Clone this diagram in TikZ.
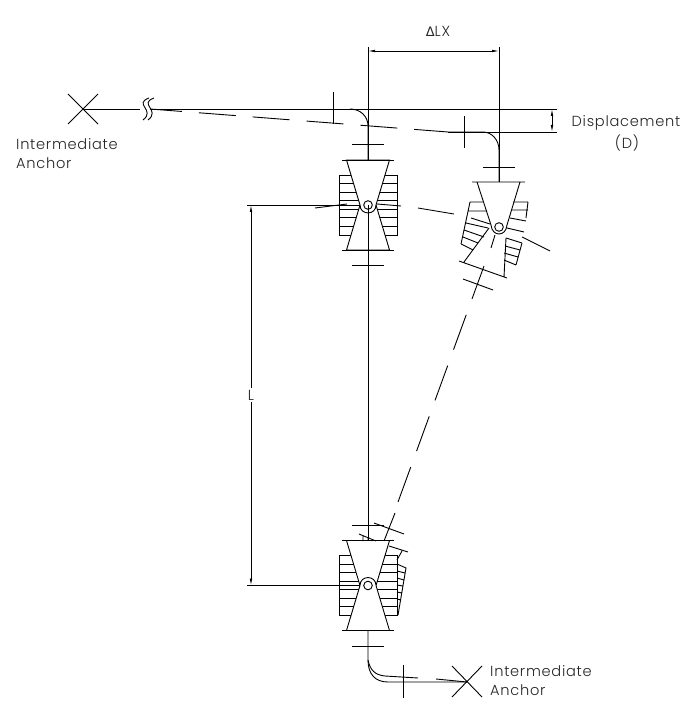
\documentclass[tikz,border=0pt]{standalone}
\usepackage{fontspec}
\setmainfont[LetterSpace=5]{Poppins Light}
\newfontfamily\deltafont{DejaVu Sans}
\usetikzlibrary{arrows.meta,positioning}
\tikzset{
  joint/.style={line width=0.9pt},
  pipedash/.style={joint,dash pattern=on 37pt off 17pt},
  dimline/.style={line width=0.75pt},
  dimarrow/.style={dimline,{Latex[length=7pt,width=2.6pt]}-{Latex[length=7pt,width=2.6pt]}},
  lbl/.style={font=\fontsize{14.6}{19}\selectfont,inner sep=0pt,text=black!85}
}
\newcommand{\BellowJoint}[3]{
  \begin{scope}[shift={(#2)}]
    \foreach \ry in {-30,-21.43,-12.86,-4.29,4.29,12.86,21.43,30}
      \draw[joint] (-29,\ry) -- (29,\ry);
    \draw[joint] (-29,-30) rectangle (29,30);
    \draw[joint,fill=white] (-21.5,-45) -- (-8,0) -- (-21.5,45) -- (21.5,45)
      -- (8,0) -- (21.5,-45) -- cycle;
    \draw[joint] (-26,-45) -- (26,-45) (-26,45) -- (26,45);
    \draw[joint,fill=white] (-8,0) .. controls (-8,#3*10.6) and (8,#3*10.6) .. (8,0);
    \node[draw,joint,circle,minimum size=8.6pt,inner sep=0pt] (hub-#1) at (0,0) {};
  \end{scope}
}
\begin{document}
\begin{tikzpicture}[x=1pt,y=-1pt]
  \useasboundingbox (0,0) rectangle (693,711);
  % joints in the cold position
  \BellowJoint{top}{368,205}{1}
  \BellowJoint{bot}{368,585.5}{-1}
  % header with its anchor
  \coordinate (anchor-l) at (83,109);
  \coordinate (anchor-r) at (467,682);
  \coordinate (ext-a) at (557,109);
  \coordinate (ext-b) at (557,132);
  \draw[joint] (68,94) -- (98,124) (68,124) -- (98,94);
  \draw[joint] (anchor-l) -- (140,109) (151,109) -- (ext-a);
  \draw[joint] (149,98) .. controls (133,104) and (156,110) .. (143,120);
  \draw[joint] (154,98) .. controls (138,104) and (161,110) .. (148,120);
  \draw[joint] (350,109) .. controls (360,109) and (368,116) .. (368,126) -- (368,160);
  \draw[joint] (333,92) -- (333,124) (352,144) -- (384,144);
  % riser between the joints
  \draw[joint] (368,205) -- (368,541);
  \draw[joint] (352,265) -- (384,265) (352,525) -- (384,525);
  % lower run to second anchor
  \draw[joint] (368,630) -- (368,660) .. controls (368,674) and (375,682) .. (388,682)
    -- (anchor-r);
  \draw[joint] (368,660) .. controls (370,670) and (375,675) .. (385,676) -- (418,678);
  \draw[joint] (436,679) -- (anchor-r);
  \draw[joint] (352,646) -- (384,646) (403,665) -- (403,698);
  \draw[joint] (452,666) -- (482,697) (452,697) -- (482,666);
  % displaced position, dashed
  \draw[pipedash,dash phase=5pt] (150,109) -- (448,132);
  \draw[joint] (448,132) -- (483,132) .. controls (492,132) and (499,140) .. (499,150)
    -- (499,182);
  \draw[joint] (464,116) -- (464,148) (483,167) -- (515,167);
  \draw[joint] (315,208) -- (347,204) (377,204) -- (401,206);
  \draw[joint] (418,208) -- (454,214) (522,237) -- (550,251);
  % displaced joint
  \draw[joint] (472,182) -- (525,182) (477,182) -- (491,225) (520,182) -- (507,225);
  \draw[joint] (491,225) .. controls (492,237) and (506,237) .. (507,225);
  \node[draw,joint,circle,minimum size=8.6pt,inner sep=0pt] (hub-disp) at (499,227) {};
  \draw[joint] (489,228) -- (464,262) (506,238) -- (504,277) (459,261) -- (507,278);
  \draw[joint] (495,235) -- (491,248) (463,279) -- (493,290);
  \draw[joint] (470,202) -- (483,202) (470,202) -- (461,244) (468,211) -- (487,211)
    (471,218) -- (490,224) (466,223) -- (488,228) (464,230) -- (484,237)
    (463,237) -- (478,243) (461,244) -- (473,250);
  \draw[joint] (513,202) -- (528,202) (528,202) -- (526,218) (512,210) -- (528,210)
    (510,218) -- (526,221) (507,228) -- (524,232) (506,238) -- (522,243)
    (522,243) -- (516,265) (505,246) -- (520,250) (504,253) -- (518,257)
    (504,260) -- (516,265);
  \draw[pipedash,dash phase=2pt] (484,266) -- (398,502);
  \draw[joint] (395,513) -- (384,541);
  % displaced bits at the lower joint
  \draw[joint] (374,523) -- (404,534) (359,534) -- (376,541) (363,536) -- (363,541)
    (368,538) -- (368,541) (372,540) -- (372,541);
  \draw[joint] (389,546) -- (408,552) (402,551) -- (397,560);
  \draw[joint] (397,564) -- (406,568) -- (398,615) (397,571) -- (405,573)
    (397,578) -- (404,580) (397,585) -- (403,586) (397,592) -- (402,593)
    (397,599) -- (401,600);
  % dimensions
  \coordinate (dx-a) at (368,51);
  \coordinate (dx-b) at (499,51);
  \draw[dimline] (368,47) -- (368,160) (499,47) -- (499,182);
  \draw[dimarrow] (dx-a) -- (dx-b);
  \node[lbl] (lbl-dlx) at (438,31) {{\deltafont\fontsize{13}{16}\selectfont Δ}LX};
  \draw[joint] (448,132) -- (ext-b);
  \draw[dimarrow] (552,109) -- (552,132);
  \node[lbl,anchor=west] (lbl-disp) at (571.5,123) {Displacement};
  \node[lbl] (lbl-d) at (627,143) {(D)};
  \coordinate (dl-a) at (251,205);
  \coordinate (dl-b) at (251,585.5);
  \draw[dimline] (247,205) -- (360,205) (247,585.5) -- (360,585.5);
  \node[lbl,fill=white,inner ysep=2pt] (lbl-l) at (251,395) {L};
  \draw[dimline,{Latex[length=7pt,width=2.6pt]}-] (dl-a) -- (lbl-l);
  \draw[dimline,{Latex[length=7pt,width=2.6pt]}-] (dl-b) -- (lbl-l);
  % anchor labels
  \node[lbl,anchor=west,align=left] (lbl-al) at (16,153.5) {Intermediate\\Anchor};
  \node[lbl,anchor=west,align=left] (lbl-ar) at (490,681) {Intermediate\\Anchor};
\end{tikzpicture}
\end{document}
